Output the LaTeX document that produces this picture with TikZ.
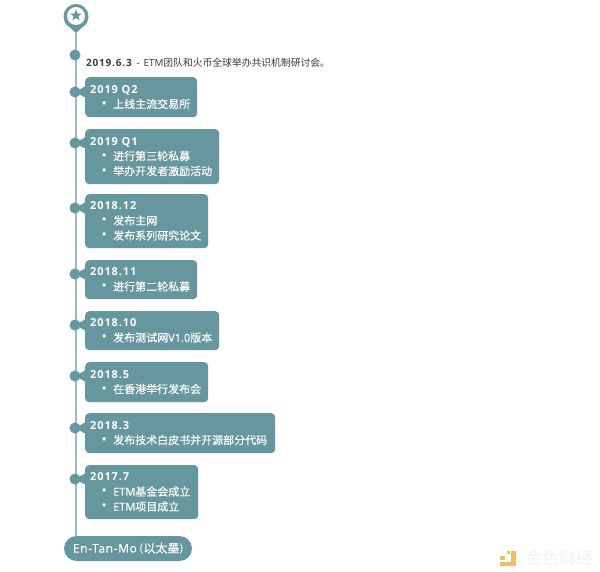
\documentclass[tikz,border=0pt]{standalone}
\usepackage{fontspec}
\setmainfont{Open Sans}
\newfontfamily\cjk{Noto Sans CJK SC}
\newfontfamily\cjkw[FakeBold=0.35]{Noto Sans CJK SC}
\newfontfamily\latw[FakeBold=0.35]{Open Sans}
\usetikzlibrary{shapes.geometric}
\definecolor{teal1}{HTML}{66979E}
\definecolor{stemcol}{HTML}{96BBC0}
\definecolor{darktxt}{HTML}{3A3A3A}
\definecolor{wmark}{HTML}{F3F3F3}
\definecolor{wlogo}{HTML}{F2BC62}
\newcommand{\yr}[1]{\textbf{\addfontfeature{LetterSpace=8}#1}}
\newcommand{\itm}[1]{\hspace*{11.5pt}\makebox[11.5pt][l]{\fontsize{14}{15}\selectfont\textbullet}{#1}}
\newcommand{\zh}[1]{{\cjkw #1}}
\newcommand{\la}[1]{{\latw #1}}
\tikzset{
  stem/.style={stemcol,line width=1.6pt},
  dot/.style={circle,fill=teal1,minimum size=11pt,inner sep=0pt},
  stagebox/.style={anchor=north west,rectangle,rounded corners=4pt,fill=teal1,text=white,
    inner xsep=5pt,inner ysep=0pt,align=left,font=\fontsize{11}{15}\selectfont},
  tail/.style={fill=teal1}
}
\begin{document}
\begin{tikzpicture}[x=1pt,y=-1pt]
\useasboundingbox[fill=white] (0,0) rectangle (600,572);
% pin and bottom label
\coordinate (pintip) at (76,33);
\node[circle,fill=teal1,minimum size=25pt,inner sep=0pt] (pin) at (76,16.5) {};
\fill[teal1] (65,23) -- (pintip) -- (87,23) -- cycle;
\node[circle,fill=white,minimum size=18pt,inner sep=0pt] (pinhole) at (76,16) {};
\node[star,star points=5,star point ratio=2.4,fill=teal1,minimum size=12pt,inner sep=0pt] (pinstar) at (76,15.5) {};
\node[rounded corners=12.5pt,fill=teal1,text=white,minimum width=128pt,minimum height=25pt,inner sep=0pt,
  font=\fontsize{12}{13}\selectfont] (entanmo) at (128,548.5) {{\latw\addfontfeature{LetterSpace=5}En-Tan-Mo} ({\cjkw 以太墨})};
\draw[stem] (pintip) -- (entanmo.north -| pintip);
% top line
\node[dot] (d0) at (75,55) {};
\node[anchor=west,inner sep=0pt,text=darktxt,font=\fontsize{9.8}{12}\selectfont] (first) at (86,62.5)
  {{\fontsize{10}{12}\selectfont\yr{2019.6.3}}\hspace{4pt}-\hspace{4pt}ETM{\cjk 团队和火币全球举办共识机制研讨会。}};
% stages
\node[stagebox,minimum height=40pt,text width=102pt] (q2) at (85,77)
  {\yr{2019 Q2}\\\itm{\zh{上线主流交易所}}};
\node[stagebox,minimum height=55pt,text width=124pt] (q1) at (85,129)
  {\yr{2019 Q1}\\\itm{\zh{进行第三轮私募}}\\\itm{\zh{举办开发者激励活动}}};
\node[stagebox,minimum height=54pt,text width=113pt] (dec) at (85,194)
  {\yr{2018.12}\\\itm{\zh{发布主网}}\\\itm{\zh{发布系列研究论文}}};
\node[stagebox,minimum height=39pt,text width=102pt] (nov) at (85,260)
  {\yr{2018.11}\\\itm{\zh{进行第二轮私募}}};
\node[stagebox,minimum height=39pt,text width=124pt] (oct) at (85,311)
  {\yr{2018.10}\\\itm{\zh{发布测试网}\la{V1.0}\zh{版本}}};
\node[stagebox,minimum height=40pt,text width=113pt] (may) at (85,362)
  {\yr{2018.5}\\\itm{\zh{在香港举行发布会}}};
\node[stagebox,minimum height=40pt,text width=180pt] (mar) at (85,413)
  {\yr{2018.3}\\\itm{\zh{发布技术白皮书并开源部分代码}}};
\node[stagebox,minimum height=54pt,text width=103pt] (jul) at (85,465)
  {\yr{2017.7}\\\itm{\la{ETM}\zh{基金会成立}}\\\itm{\la{ETM}\zh{项目成立}}};
% dots on the line
\node[dot] (d1) at (75,92) {};
\node[dot] (d2) at (75,143) {};
\node[dot] (d3) at (75,208) {};
\node[dot] (d4) at (75,274) {};
\node[dot] (d5) at (75,325) {};
\node[dot] (d6) at (75,376) {};
\node[dot] (d7) at (75,428) {};
\node[dot] (d8) at (75,479) {};
% tails
\fill[tail] (86,86) -- (d1.center) -- (86,98) -- cycle;
\fill[tail] (86,137) -- (d2.center) -- (86,149) -- cycle;
\fill[tail] (86,202) -- (d3.center) -- (86,214) -- cycle;
\fill[tail] (86,268) -- (d4.center) -- (86,280) -- cycle;
\fill[tail] (86,319) -- (d5.center) -- (86,331) -- cycle;
\fill[tail] (86,370) -- (d6.center) -- (86,382) -- cycle;
\fill[tail] (86,422) -- (d7.center) -- (86,434) -- cycle;
\fill[tail] (86,473) -- (d8.center) -- (86,485) -- cycle;
% watermark
\fill[wlogo] (511,550.5) rectangle (516,566);
\fill[wlogo] (500,562) rectangle (516,566);
\fill[wlogo] (500,556) rectangle (505,560);
\fill[wlogo] (507,551) rectangle (510,554);
\node[anchor=west,inner sep=0pt,text=wmark,font=\fontsize{17}{18}\selectfont] (wtext) at (525,558) {\cjk 金色财经};
\end{tikzpicture}
\end{document}
